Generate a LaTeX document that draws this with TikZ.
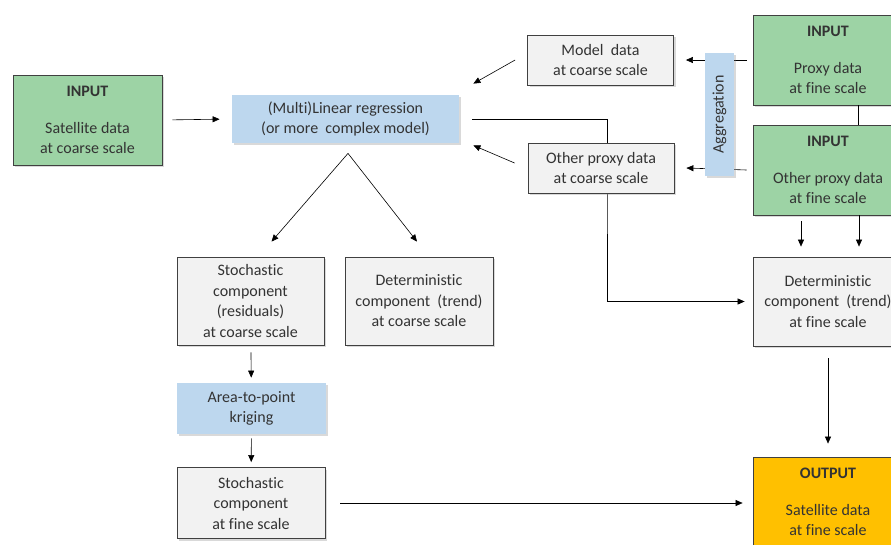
\documentclass[tikz,border=0pt]{standalone}
\usepackage{fontspec}
\setmainfont{Carlito}[Ligatures={NoCommon}]
\usepackage{tikz}
\usetikzlibrary{arrows.meta}
\usetikzlibrary{shadows}
\usetikzlibrary{backgrounds}
\usetikzlibrary{positioning}

\definecolor{ingreen}{HTML}{9DD3A5}
\definecolor{procblue}{HTML}{BDD7EE}
\definecolor{datagrey}{HTML}{F2F2F2}
\definecolor{outorange}{HTML}{FFC000}
\definecolor{edgegrey}{HTML}{404040}

\begin{document}
\begin{tikzpicture}
          [x=1pt, y=-1pt,
           every node/.style={draw=edgegrey, line width=0.8pt, align=center, text=black!80,
             font=\fontsize{16}{20.5}\selectfont, inner sep=2pt,
             drop shadow={shadow xshift=2pt, shadow yshift=-2pt, opacity=0.3}},
           inbox/.style={fill=ingreen, minimum width=150pt, minimum height=90pt},
           procbox/.style={fill=procblue, draw=none},
           databox/.style={fill=datagrey},
           outbox/.style={fill=outorange, minimum width=150pt, minimum height=90pt},
           arr/.style={-{Triangle[length=7pt, width=6pt]}, line width=0.6pt}]
          \useasboundingbox (0,0) rectangle (891,544);

          % inputs
          \node (sat) [inbox, minimum width=149pt] at (87.5,120) {\textbf{INPUT}\\[16pt]Satellite data\\at coarse scale};
          \node (proxf) [inbox] at (828,60) {\textbf{INPUT}\\[16pt]Proxy data\\at fine scale};
          \node (oproxf) [inbox] at (828,170) {\textbf{INPUT}\\[16pt]Other proxy data\\at fine scale};

          % coarse scale
          \node (reg) [procbox, minimum width=227pt, minimum height=48pt] at (345.5,119) {(Multi)Linear regression\\(or more\ \ complex model)};
          \node (model) [databox, minimum width=146pt, minimum height=50pt] at (600.5,60) {Model\ \ data\\at coarse scale};
          \node (oproxc) [databox, minimum width=146pt, minimum height=50pt] at (601,168) {Other proxy data\\at coarse scale};
          \node (stochc) [databox, minimum width=147pt, minimum height=88pt] at (250.5,301) {Stochastic\\component\\(residuals)\\at coarse scale};
          \node (detc) [databox, minimum width=148pt, minimum height=88pt] at (419,301) {Deterministic\\component\ \ (trend)\\at coarse scale};

          % fine scale
          \node (detf) [databox, minimum width=150pt, minimum height=89pt] at (828,301.5) {Deterministic\\component\ \ (trend)\\at fine scale};
          \node (krig) [procbox, minimum width=149pt, minimum height=51pt] at (251.5,408.5) {Area-to-point\\kriging};
          \node (stochf) [databox, minimum width=148pt, minimum height=71pt] at (251,503) {Stochastic\\component\\at fine scale};
          \node (out) [outbox] at (828,502) {\textbf{OUTPUT}\\[16pt]Satellite data\\at fine scale};

          % connectors behind the boxes
          \begin{scope}[on background layer]
            \draw[arr] ([xshift=13pt]reg.east) -| ([xshift=6pt]oproxc.center) |- ([xshift=-8pt]detf.west);
            \draw[arr] ([xshift=-6pt]proxf.west) -- ([xshift=12pt]model.east);
            \draw[arr] ([xshift=-6pt]oproxf.west) -- ([xshift=12pt]oproxc.east);
          \end{scope}

          \node (aggr) [procbox, minimum width=123pt, minimum height=29pt, rotate=90, inner sep=0pt] at (719.5,114.5) {Aggregation};

          \draw[arr, shorten <=10pt, shorten >=12pt] (sat.east) -- (reg.west);
          \draw[arr] ([xshift=-12pt]model.west) -- ([shift={(14pt,11pt)}]reg.north east);
          \draw[arr] ([shift={(-13pt,5pt)}]oproxc.west) -- ([shift={(14pt,-2pt)}]reg.south east);

          \coordinate (split) at ([shift={(2.5pt,-10pt)}]reg.south);
          \draw[arr] (split) -- ([shift={(21pt,15pt)}]stochc.north);
          \draw[arr] (split) -- ([shift={(-2pt,15pt)}]detc.north);

          \draw ([xshift=30pt]proxf.south) -- ([xshift=30pt]oproxf.north);
          \draw[arr, shorten >=10pt] ([xshift=31pt]oproxf.south) -- ([xshift=31pt]detf.north);
          \draw[arr, shorten <=6pt, shorten >=10pt] ([xshift=-27pt]oproxf.south) -- ([xshift=-27pt]detf.north);

          \draw[arr, shorten <=12pt, shorten >=13pt] (detf) -- (out);
          \draw[arr, shorten <=7pt, shorten >=5pt] (stochc) -- (krig);
          \draw[arr, shorten <=4pt, shorten >=5pt] (krig) -- (stochf);
          \draw[arr, shorten <=15pt, shorten >=10pt] (stochf.east) -- (stochf.east -| out.west);
        \end{tikzpicture}
\end{document}
